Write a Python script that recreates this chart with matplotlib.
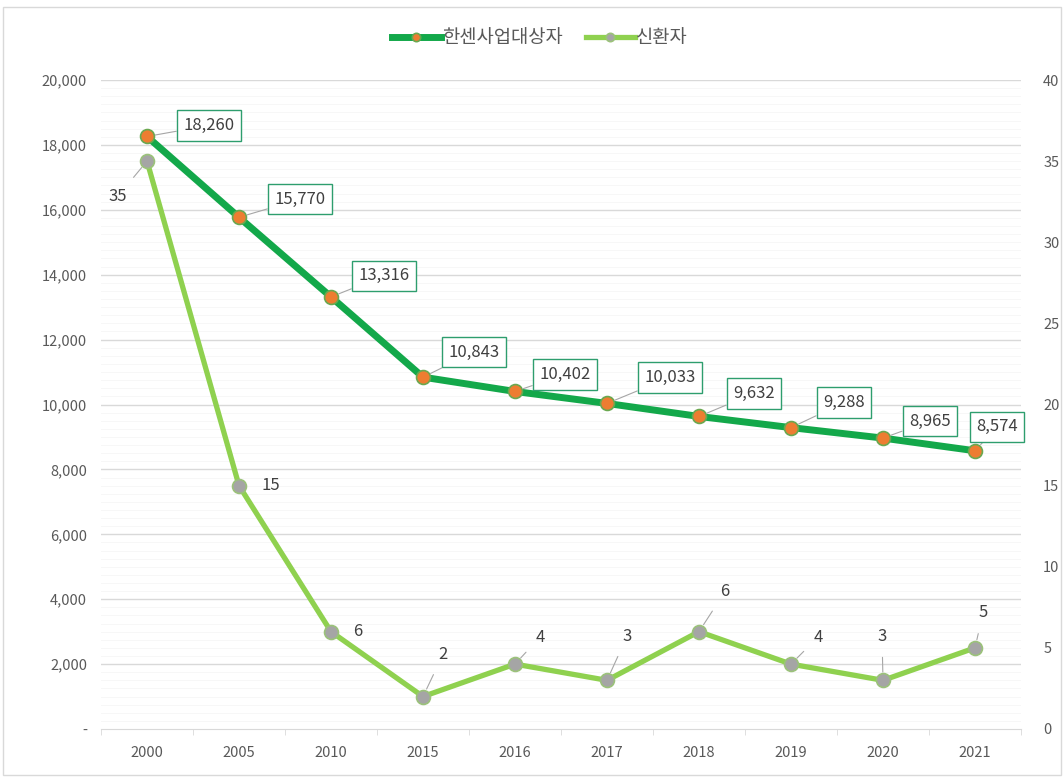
import numpy as np
import matplotlib
matplotlib.use("Agg")
import matplotlib.pyplot as plt
from matplotlib.patches import Rectangle

plt.rcParams['font.family'] = ['Noto Sans CJK KR', 'DejaVu Sans']

years = ['2000', '2005', '2010', '2015', '2016', '2017', '2018', '2019', '2020', '2021']
hansen = [18260, 15770, 13316, 10843, 10402, 10033, 9632, 9288, 8965, 8574]
new_cases = [35, 15, 6, 2, 4, 3, 6, 4, 3, 5]

# label offsets in pixels (dx, dy)
off1 = [(62, 11), (61, 18), (53, 21), (51, 25), (50, 17), (63, 26), (55, 23), (53, 25), (47, 17), (22, 24)]
off2 = [(-29, -35), (32, 0), (27, 0), (20, 42), (25, 27), (20, 44), (26, 40), (27, 27), (-1, 44), (8, 35)]

c_dark = '#13a84a'
c_light = '#8fd14f'
c_orange = '#ed7d31'
c_gray = '#a5a5a5'
txt = '#595959'

fig = plt.figure(figsize=(10.64, 7.78), dpi=100)
ax = fig.add_axes([101 / 1064, 1 - 729 / 778, 920 / 1064, 649 / 778])
ax2 = ax.twinx()

x = np.arange(len(years))

ax.set_xlim(-0.5, len(years) - 0.5)
ax.set_ylim(0, 20000)
ax2.set_ylim(0, 40)

# grid drawn on the lower (right-axis) layer, 1 unit = 500
for v in np.arange(0.5, 40, 0.5):
    ax2.axhline(v, color='#f7f7f7', lw=0.7, zorder=0)
for v in np.arange(4, 41, 4):
    ax2.axhline(v, color='#d9d9d9', lw=1.0, zorder=0)

ax.plot(x, hansen, color=c_dark, lw=5, marker='o', ms=10,
        mfc=c_orange, mec='#6aa84f', mew=1.2, zorder=4, label='한센사업대상자')
ax2.plot(x, new_cases, color=c_light, lw=3.8, marker='o', ms=10,
         mfc=c_gray, mec='#9bc27a', mew=1.2, zorder=3, label='신환자')

ax.set_yticks(np.arange(0, 20001, 2000))
ax.set_yticklabels(['-'] + [f'{v:,}' for v in range(2000, 20001, 2000)])
ax2.set_yticks(np.arange(0, 41, 5))
ax.set_xticks(x)
ax.set_xticklabels(years)
ax.set_xticks(np.arange(-0.5, len(years), 1), minor=True)

for a in (ax, ax2):
    for s in a.spines.values():
        s.set_visible(False)
    a.tick_params(axis='y', length=0, labelsize=10.5, labelcolor=txt)
ax.spines['bottom'].set_visible(True)
ax.spines['bottom'].set_color('#d9d9d9')
ax.tick_params(axis='x', which='major', length=0, labelsize=10.5, labelcolor=txt, pad=12)
ax.tick_params(axis='x', which='minor', length=4, color='#d9d9d9')
ax.tick_params(axis='y', pad=10)
ax2.tick_params(axis='y', pad=16)

ax.set_zorder(ax2.get_zorder() + 1)
ax.patch.set_visible(False)

for xi, v, (dx, dy) in zip(x, hansen, off1):
    ax.annotate(f'{v:,}', (xi, v), xytext=(dx, dy), textcoords='offset pixels',
                ha='center', va='center', fontsize=12, color='#404040', zorder=6,
                bbox=dict(boxstyle='square,pad=0.4', fc='white', ec='#2e9e6e', lw=1.0),
                arrowprops=dict(arrowstyle='-', color='#a6a6a6', lw=0.8, shrinkA=0, shrinkB=6))

for xi, v, (dx, dy) in zip(x, new_cases, off2):
    ax2.annotate(str(v), (xi, v), xytext=(dx, dy), textcoords='offset pixels',
                 ha='center', va='center', fontsize=12, color='#404040', zorder=6,
                 arrowprops=dict(arrowstyle='-', color='#a6a6a6', lw=0.8, shrinkA=7, shrinkB=6)
                 if abs(dy) > 20 else None)

h1, l1 = ax.get_legend_handles_labels()
h2, l2 = ax2.get_legend_handles_labels()
fig.legend(h1 + h2, l1 + l2, loc='center', bbox_to_anchor=(540 / 1064, 1 - 38 / 778), ncol=2,
           frameon=False, fontsize=13.5, handlelength=2.6, columnspacing=1.2,
           handletextpad=0.1, labelcolor=txt, markerscale=0.6)

fig.patches.append(Rectangle((3 / 1064, 3 / 778), 1 - 6 / 1064, 1 - 10 / 778,
                             transform=fig.transFigure, fill=False, ec='#d9d9d9', lw=1))

fig.savefig('out.png', dpi=100)
